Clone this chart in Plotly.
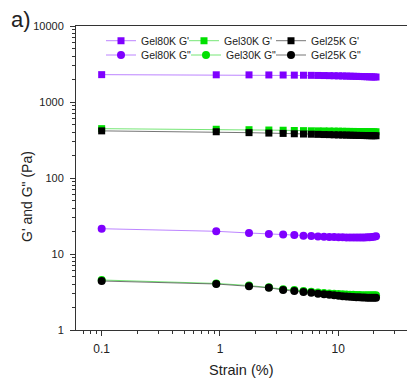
import plotly.graph_objects as go

strain = [0.1, 0.93, 1.76, 2.59, 3.42, 4.25, 5.08, 5.91, 6.74, 7.57, 8.4, 9.23, 10.06,
          10.89, 11.72, 12.55, 13.38, 14.21, 15.04, 15.87, 16.7, 17.53, 18.36, 19.19, 20.02, 20.85]

g80_Gp = [2290, 2280, 2275, 2270, 2265, 2258, 2250, 2243, 2236, 2229, 2222, 2215, 2208,
          2201, 2194, 2187, 2180, 2174, 2168, 2162, 2156, 2150, 2145, 2140, 2136, 2132]
g30_Gp = [446, 438, 432, 428, 425, 422, 420, 418, 417, 416, 415, 414, 413,
          412, 411, 410, 410, 409, 409, 408, 408, 407, 407, 406, 406, 406]
g25_Gp = [417, 406, 395, 390, 386, 382, 379, 377, 375, 373, 372, 370, 369,
          368, 367, 366, 365, 364, 363, 363, 362, 361, 361, 360, 360, 360]
g80_Gpp = [21.5, 19.9, 18.9, 18.3, 18.1, 17.8, 17.4, 17.2, 17.0, 16.9, 16.8, 16.7, 16.6,
           16.6, 16.5, 16.5, 16.5, 16.5, 16.5, 16.5, 16.5, 16.6, 16.6, 16.7, 16.9, 17.1]
g30_Gpp = [4.55, 4.1, 3.85, 3.65, 3.45, 3.35, 3.25, 3.18, 3.12, 3.07, 3.03, 3.0, 2.97,
           2.95, 2.93, 2.92, 2.9, 2.89, 2.88, 2.87, 2.87, 2.86, 2.86, 2.86, 2.86, 2.86]
g25_Gpp = [4.41, 4.03, 3.76, 3.6, 3.36, 3.26, 3.16, 3.08, 3.01, 2.95, 2.9, 2.86, 2.82,
           2.79, 2.76, 2.74, 2.72, 2.70, 2.69, 2.68, 2.67, 2.66, 2.66, 2.65, 2.65, 2.65]

x_ticks = [0.1, 1, 10]
x_ticktext = ["0.1", "1", "10"]
y_ticks = [1, 10, 100, 1000, 10000]
y_ticktext = ["1", "10", "100", "1000", "10000"]

PURPLE = "#7F00FF"
GREEN = "#00E000"
BLACK = "#000000"

series = [
    ("Gel80K G'", g80_Gp, PURPLE, "rgba(160,80,255,0.7)", "square"),
    ("Gel30K G'", g30_Gp, GREEN, "rgba(60,220,60,0.7)", "square"),
    ("Gel25K G'", g25_Gp, BLACK, "rgba(60,60,60,0.7)", "square"),
    ('Gel80K G"', g80_Gpp, PURPLE, "rgba(160,80,255,0.7)", "circle"),
    ('Gel30K G"', g30_Gpp, GREEN, "rgba(60,220,60,0.7)", "circle"),
    ('Gel25K G"', g25_Gpp, BLACK, "rgba(60,60,60,0.7)", "circle"),
]

PW, PH = 407 - 76, 381 - 26 - 51


def px2paper(px, py):
    return (px - 76) / PW, (330 - py) / PH


# legend entry anchor points (pixels): one single-entry legend per trace
legend_pos = [(101, 40.7), (184, 40.7), (271, 40.7),
              (101, 55.0), (186, 55.0), (271, 55.0)]

fig = go.Figure()
legend_layout = {}
for i, ((name, vals, mc, lc, sym), (lpx, lpy)) in enumerate(zip(series, legend_pos)):
    lname = "legend" if i == 0 else f"legend{i + 1}"
    fig.add_trace(go.Scatter(
        x=strain, y=vals, name=name, mode="lines+markers", legend=lname,
        showlegend=True,
        line=dict(color=lc, width=1),
        marker=dict(symbol=sym, color=mc, size=8 if sym == "circle" else 7,
                    line=dict(width=0)),
    ))
    lx, ly = px2paper(lpx, lpy)
    legend_layout[lname] = dict(
        x=lx, y=ly, xanchor="left", yanchor="middle", orientation="h",
        font=dict(size=10.5, color="#222"), bgcolor="rgba(0,0,0,0)", itemwidth=30,
    )

axis_color = "#333333"
fig.update_xaxes(
    type="log", range=[-1.217, 1.581],
    tickvals=x_ticks, ticktext=x_ticktext,
    ticks="outside", ticklen=5, tickcolor=axis_color, tickwidth=1,
    minor=dict(ticks="outside", ticklen=3, tickcolor=axis_color, dtick="D1", showgrid=False),
    showline=True, linecolor=axis_color, linewidth=1, mirror=True,
    showgrid=False, zeroline=False, ticklabelstandoff=3,
    tickfont=dict(family="Liberation Sans, Arial", size=12, color="#222"),
)
fig.update_yaxes(
    type="log", range=[0, 4],
    tickvals=y_ticks, ticktext=y_ticktext,
    ticks="outside", ticklen=5, tickcolor=axis_color, tickwidth=1,
    minor=dict(ticks="outside", ticklen=3, tickcolor=axis_color, dtick="D1", showgrid=False),
    showline=True, linecolor=axis_color, linewidth=1,
    showgrid=False, zeroline=False, ticklabelstandoff=4,
    tickfont=dict(family="Liberation Sans, Arial", size=11, color="#222"),
)

anns = []
for text, px, py, size, angle in [
    ("Strain (%)", 241, 370, 14.5, 0),
    ("G' and G\" (Pa)", 27, 197, 14, -90),
    ("a)", 21, 19, 22, 0),
]:
    ax, ay = px2paper(px, py)
    anns.append(dict(text=text, x=ax, y=ay, xref="paper", yref="paper",
                     xanchor="center", yanchor="middle", showarrow=False,
                     textangle=angle, font=dict(size=size, color="#222")))

fig.update_layout(
    width=407, height=381,
    margin=dict(l=76, r=0, t=26, b=51),
    paper_bgcolor="white", plot_bgcolor="white",
    font=dict(family="Liberation Sans, Arial", color="#222"),
    showlegend=True,
    annotations=anns,
    **legend_layout,
)

fig.write_html("out.html")
